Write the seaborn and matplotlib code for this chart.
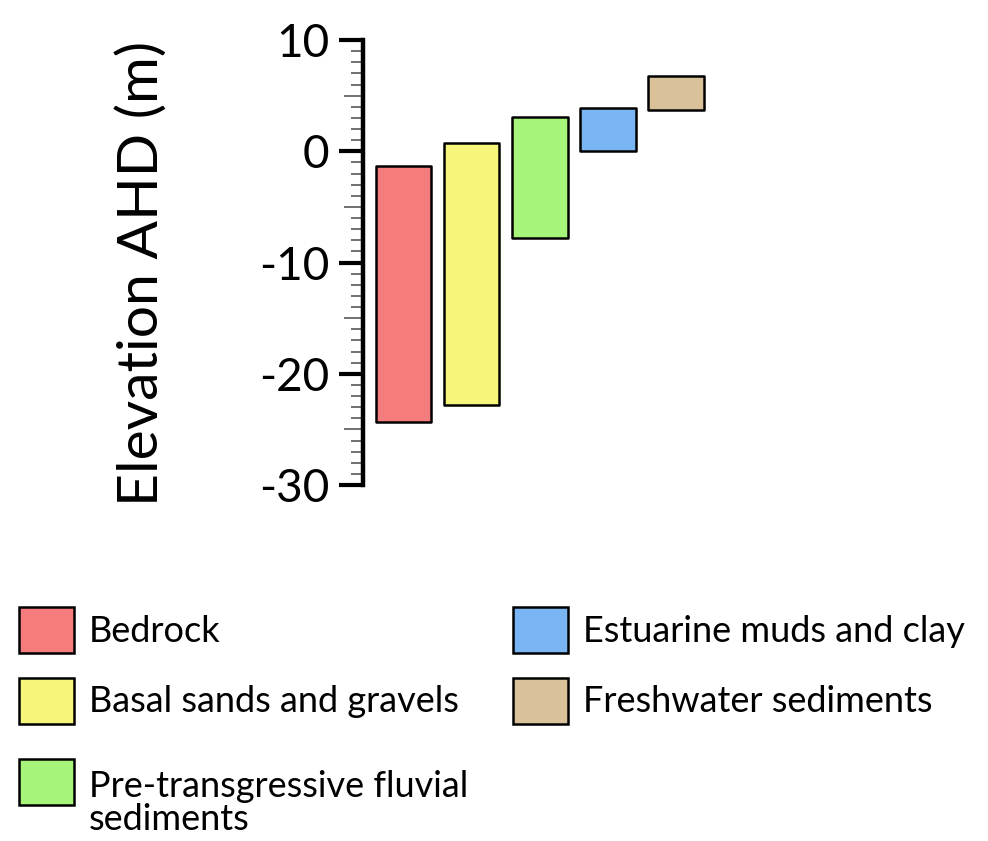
import numpy as np
import matplotlib
matplotlib.use("Agg")
import matplotlib.pyplot as plt
import matplotlib.patches as mpatches
from matplotlib.ticker import FixedLocator
import seaborn as sns

# Stratigraphic units: top and base elevation (m AHD)
units = ["Bedrock", "Basal sands and gravels", "Pre-transgressive fluvial\nsediments",
         "Estuarine muds and clay", "Freshwater sediments"]
tops = [-1.3, 0.7, 3.1, 3.9, 6.8]
bases = [-24.3, -22.8, -7.8, 0.0, 3.7]
colors = ["#F47C7C", "#F7F57A", "#A6F57A", "#79B4F3", "#D9C29A"]

sns.set_style("white")
plt.rcParams["font.family"] = ["Lato", "DejaVu Sans"]
plt.rcParams["text.color"] = "black"
plt.rcParams["ytick.labelcolor"] = "black"
plt.rcParams["axes.labelcolor"] = "black"

fig = plt.figure(figsize=(9.88, 8.41), dpi=100)
ax = fig.add_axes([363 / 988, 1 - 485 / 841, 357 / 988, 445 / 841])

# one seaborn call per unit so each bar can float on its own base
for unit, top, base, col in zip(units, tops, bases, colors):
    sns.barplot(x=[unit], y=[top - base], bottom=base, order=units, color=col,
                saturation=1, width=0.82, edgecolor="black", linewidth=1.8,
                errorbar=None, ax=ax)
for p in ax.patches:
    p.set_joinstyle("round")

ax.set_xlim(-0.595, 4.65)
ax.set_ylim(-30, 10)
ax.set_xticks([])
ax.set_xlabel("")
for s in ["top", "right", "bottom"]:
    ax.spines[s].set_visible(False)
ax.spines["left"].set_linewidth(3.2)
ax.spines["left"].set_color("black")

ax.set_yticks([-30, -20, -10, 0, 10])
ax.set_yticklabels(["-30", "-20", "-10", "0", "10"])
minor = [v for v in range(-30, 11) if v % 5 != 0]
ax.yaxis.set_minor_locator(FixedLocator(minor))
ax.tick_params(axis="y", which="major", direction="out", length=17, width=3,
               color="black", labelsize=33, pad=7, left=True)
ax.tick_params(axis="y", which="minor", direction="out", length=9, width=1.3,
               color="#666666", left=True)

# the half-way ticks at 5s are a bit longer
sec = ax.secondary_yaxis("left")
sec.set_yticks([5, -5, -15, -25])
sec.set_yticklabels([])
sec.tick_params(axis="y", direction="out", length=14, width=1.3, color="#666666")
sec.spines["left"].set_visible(False)

ax.set_ylabel("Elevation AHD (m)", fontsize=41)
ax.yaxis.set_label_coords(-0.548, 0.475)

handles = [mpatches.Patch(facecolor=c, edgecolor="black", linewidth=1.8,
                          joinstyle="round", label=u) for u, c in zip(units, colors)]
leg = fig.legend(handles=handles, ncol=2, loc="upper left",
                 bbox_to_anchor=(5 / 988, 1 - 593 / 841), frameon=False,
                 fontsize=26, handlelength=1.52, handleheight=1.58,
                 handletextpad=0.4, labelspacing=0.67, columnspacing=1.25,
                 borderaxespad=0)
# two-line label: keep the box level with its first line
t = leg.get_texts()[2]
t.set_linespacing(1.0)
t.set_y(-22)

fig.savefig("out.png", dpi=100)
